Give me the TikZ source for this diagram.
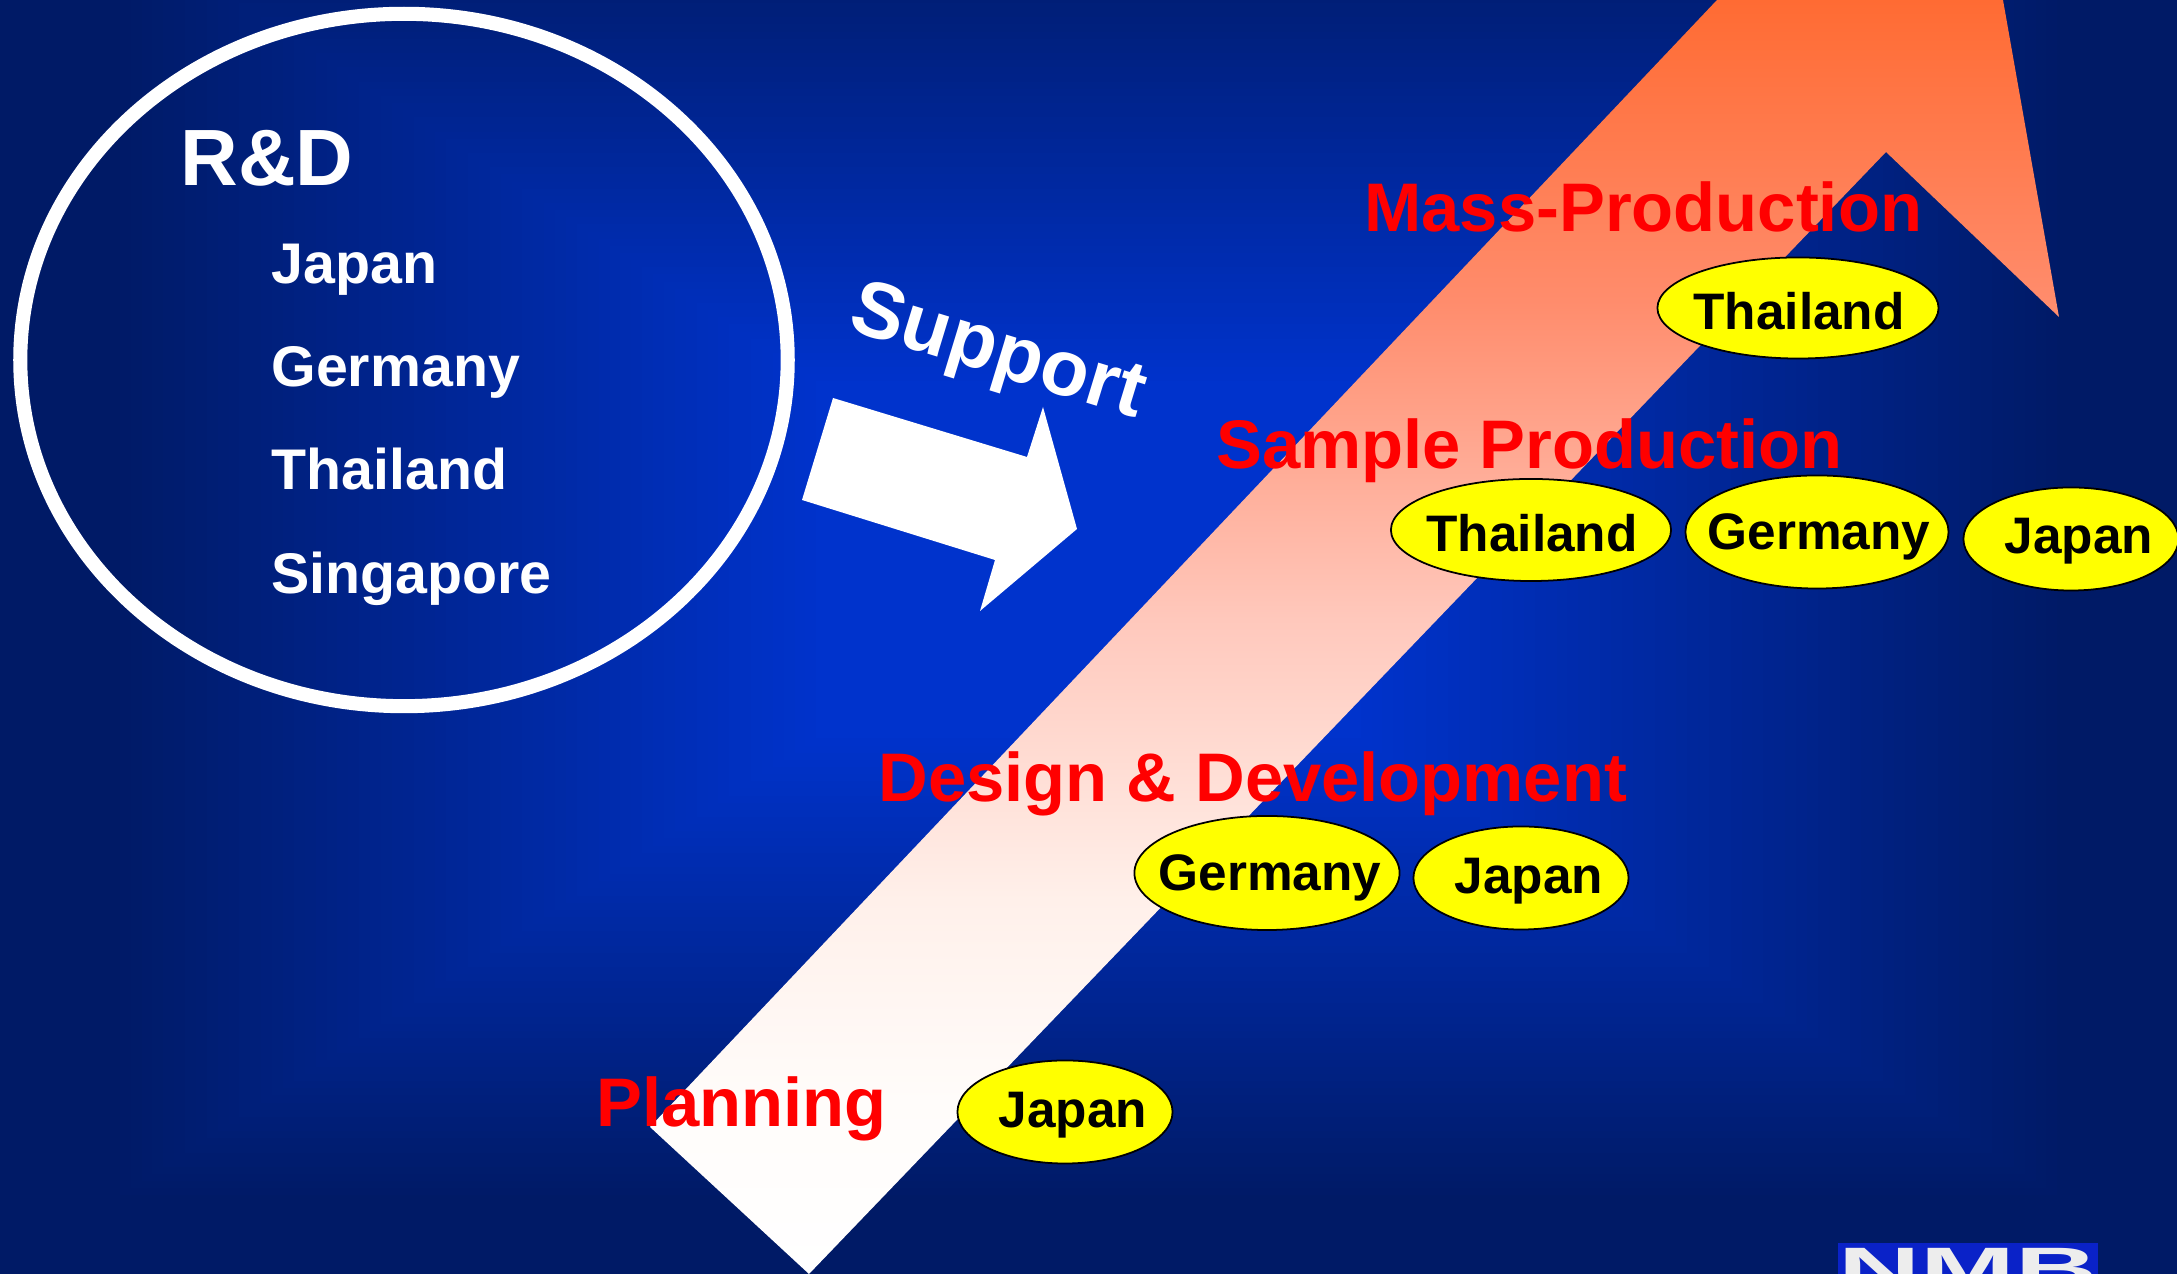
\documentclass[tikz,border=0pt]{standalone}
\usepackage{fontspec}
\setmainfont{Liberation Sans}[BoldFont={Liberation Sans Bold}]
\usetikzlibrary{shapes.geometric}
\definecolor{deepnavy}{HTML}{001A66}
\definecolor{midblue}{HTML}{0033CC}
\definecolor{logoblue}{HTML}{0A22C8}
\definecolor{siteyellow}{HTML}{FFFF00}
\definecolor{labelred}{HTML}{FF0000}
\definecolor{flameA}{HTML}{FF6B33}
\definecolor{flameB}{HTML}{FF8C6C}
\definecolor{flameC}{HTML}{FFC8BC}
\definecolor{flameD}{HTML}{FFF0EA}
\definecolor{flameE}{HTML}{FFFCFA}
\pgfdeclareverticalshading{flame}{100bp}{
  color(0bp)=(white); color(25bp)=(white); color(31.8bp)=(flameE); color(39.7bp)=(flameD);
  color(50.7bp)=(flameC); color(63.2bp)=(flameB); color(75bp)=(flameA); color(100bp)=(flameA)}
% text of a site: shift in px, baseline below the centre in px
\newcommand{\sitename}[3]{\makebox[0pt]{\kern#1\dimexpr0.02cm\relax\smash{\raisebox{-#2\dimexpr0.01cm\relax}{#3}}}}
\begin{document}
\begin{tikzpicture}[x=0.01cm, y=-0.01cm, thick,
    rd/.style = {text=white, font=\fontsize{16.3pt}{18pt}\selectfont\bfseries, anchor=base west, inner sep=0pt},
    phase/.style = {text=labelred, font=\fontsize{19.55pt}{22pt}\selectfont\bfseries, anchor=base west, inner sep=0pt},
    site/.style = {draw=black, fill=siteyellow, ellipse, inner sep=0pt, line width=0.5pt,
        font=\fontsize{14.6pt}{17pt}\selectfont\bfseries}]
    \useasboundingbox (0,0) rectangle (2177,1274);
    \clip (0,0) rectangle (2177,1274);
    % background
    \foreach \t [evaluate=\t as \mix using {min(100,max(0,(\t-25)/0.65))}] in {100,99,...,0}
        \fill[deepnavy!\mix!midblue] ({1088.5-10.885*\t},{560-7.14*\t}) rectangle ({1088.5+10.885*\t},{560+7.14*\t});

    % big arrow
    \path[shading=flame]
        (650,1127) -- (1717,0) -- (2003,0) -- (2059,317) -- (1886,152) -- (809,1274) -- cycle;

    % R&D
    \node (circle) at (404,360) [draw=white, ellipse, line width=4pt, minimum width=7.67cm, minimum height=6.92cm] {};
    \node[rd, font=\fontsize{22.7pt}{25pt}\selectfont\bfseries] (rdhead) at (179,186) {R\&D};
    \node[rd] (rdjp) at (270,284) {Japan};
    \node[rd] (rdde) at (270,387) {Germany};
    \node[rd] (rdth) at (270,490) {Thailand};
    \node[rd] (rdsg) at (270,594) {Singapore};

    % support
    \fill[white] (833,398) -- (1027,457) -- (1043,407) -- (1077,529) -- (980,611) -- (995,560) -- (802,500) -- cycle;
    \node[rd, font=\fontsize{22.5pt}{26pt}\selectfont\bfseries, rotate=-17] (support) at (845,329) {Support};

    % phases
    \node[phase] (mass) at (1363,232) {Mass-Production};
    \node[phase] (sample) at (1215,469) {Sample Production};
    \node[phase] (design) at (877,802) {Design \& Development};
    \node[phase] (plan) at (595,1127) {Planning};

    % sites
    \node[site, minimum width=2.81cm, minimum height=1.01cm] (massth) at (1798,308) {\sitename{1}{21.5}{Thailand}};
    \node[site, minimum width=2.80cm, minimum height=1.02cm] (sampleth) at (1531,530) {\sitename{1}{21.5}{Thailand}};
    \node[site, minimum width=2.63cm, minimum height=1.13cm] (samplede) at (1817,532) {\sitename{2}{18}{Germany}};
    \node[site, minimum width=2.15cm, minimum height=1.03cm] (samplejp) at (2071,539) {\sitename{8}{15}{Japan}};
    \node[site, minimum width=2.65cm, minimum height=1.14cm] (designde) at (1267,873) {\sitename{3}{18}{Germany}};
    \node[site, minimum width=2.15cm, minimum height=1.03cm] (designjp) at (1521,878) {\sitename{8}{15.5}{Japan}};
    \node[site, minimum width=2.15cm, minimum height=1.03cm] (planjp) at (1065,1112) {\sitename{8}{16}{Japan}};

    % logo
    \node (logo) at (1837,1242) [fill=logoblue, text=white!93!black, anchor=north west, inner sep=0pt,
        minimum width=2.58cm, text height=0.45cm, text depth=0.15cm, font=\fontsize{16.6pt}{18pt}\selectfont\bfseries] {\scalebox{1.95}[1]{NMB}};
\end{tikzpicture}
\end{document}
